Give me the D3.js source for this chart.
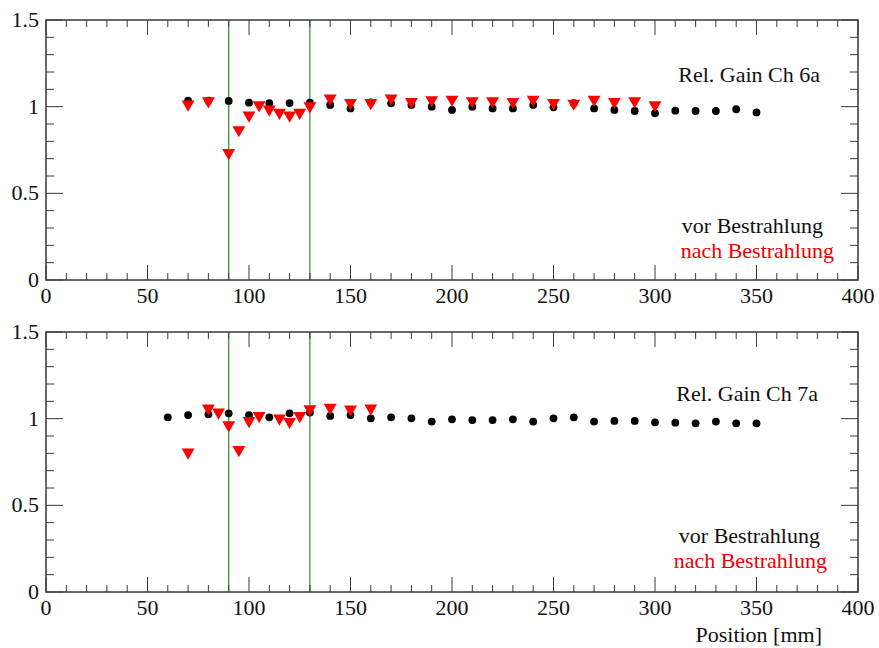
<!DOCTYPE html>
<html><head><meta charset="utf-8">
<script src="https://cdn.jsdelivr.net/npm/d3@7"></script>
<style>body{margin:0;background:#fff}svg{display:block}text{font-family:"Liberation Serif","DejaVu Serif","Times New Roman",serif}</style>
</head><body>
<script>
// ---- data ----
const xTicks = [0, 50, 100, 150, 200, 250, 300, 350, 400];
const yTicks = [0, 0.5, 1, 1.5];
const yTickLabels = ["0", "0.5", "1", "1.5"];
const markerLines = [90, 130];

const top_vor_x = [70,80,90,100,110,120,130,140,150,160,170,180,190,200,210,220,230,240,250,260,270,280,290,300,310,320,330,340,350];
const top_vor_y = [1.035,1.035,1.033,1.023,1.02,1.021,1.023,1.01,0.99,1.025,1.019,1.01,1.0,0.981,1.0,0.99,0.99,1.01,0.996,1.02,0.99,0.981,0.975,0.962,0.977,0.975,0.975,0.985,0.967];
const top_nach_x = [70,80,90,95,100,105,110,115,120,125,130,140,150,160,170,180,190,200,210,220,230,240,250,260,270,280,290,300];
const top_nach_y = [1.014,1.033,0.734,0.866,0.95,1.01,0.985,0.966,0.95,0.966,1.004,1.048,1.023,1.023,1.048,1.029,1.039,1.042,1.033,1.033,1.029,1.042,1.023,1.019,1.042,1.029,1.033,1.01];

const bot_vor_x = [60,70,80,90,100,110,120,130,140,150,160,170,180,190,200,210,220,230,240,250,260,270,280,290,300,310,320,330,340,350];
const bot_vor_y = [1.008,1.021,1.025,1.031,1.021,1.008,1.031,1.035,1.016,1.021,1.002,1.008,1.002,0.983,0.996,0.992,0.992,0.996,0.983,1.002,1.008,0.983,0.987,0.987,0.979,0.977,0.973,0.983,0.973,0.973];
const bot_nach_x = [70,80,85,90,95,100,105,115,120,125,130,140,150,160];
const bot_nach_y = [0.806,1.06,1.037,0.963,0.821,0.988,1.017,1.002,0.983,1.017,1.056,1.064,1.054,1.06];

const panels = [
  {title: "Rel. Gain Ch 6a", vx: top_vor_x, vy: top_vor_y, nx: top_nach_x, ny: top_nach_y, top: 20},
  {title: "Rel. Gain Ch 7a", vx: bot_vor_x, vy: bot_vor_y, nx: bot_nach_x, ny: bot_nach_y, top: 332}
];

// ---- drawing ----
const W = 879, H = 648;
const svg = d3.select("body").append("svg").attr("width", W).attr("height", H);
const L = 46, R = 858, PH = 260;
const x = d3.scaleLinear().domain([0, 400]).range([L, R]);
const frameCol = "#3a3a3a";
const FS = 22;

panels.forEach((p, i) => {
  const y = d3.scaleLinear().domain([0, 1.5]).range([p.top + PH, p.top]);
  const g = svg.append("g");
  const B = p.top + PH;

  markerLines.forEach(v => {
    g.append("line").attr("x1", x(v)).attr("x2", x(v)).attr("y1", p.top).attr("y2", B)
      .attr("stroke", "#2e8b2e").attr("stroke-width", 1.2);
  });

  const xMinor = d3.range(0, 401, 10);
  xMinor.forEach(v => {
    const major = v % 50 === 0;
    const len = major ? 15 : 7;
    g.append("line").attr("x1", x(v)).attr("x2", x(v)).attr("y1", B).attr("y2", B - len)
      .attr("stroke", frameCol).attr("stroke-width", 1);
    g.append("line").attr("x1", x(v)).attr("x2", x(v)).attr("y1", p.top).attr("y2", p.top + len)
      .attr("stroke", frameCol).attr("stroke-width", 1);
  });
  const yMinor = d3.range(0, 16).map(k => k / 10);
  yMinor.forEach((v, k) => {
    const major = k % 5 === 0;
    const len = major ? 17 : 8;
    g.append("line").attr("x1", L).attr("x2", L + len).attr("y1", y(v)).attr("y2", y(v))
      .attr("stroke", frameCol).attr("stroke-width", 1);
    g.append("line").attr("x1", R).attr("x2", R - len).attr("y1", y(v)).attr("y2", y(v))
      .attr("stroke", frameCol).attr("stroke-width", 1);
  });

  g.append("rect").attr("x", L).attr("y", p.top).attr("width", R - L).attr("height", PH)
    .attr("fill", "none").attr("stroke", frameCol).attr("stroke-width", 1.5);

  xTicks.forEach(v => {
    g.append("text").attr("x", x(v)).attr("y", B + 23).attr("text-anchor", "middle")
      .attr("font-size", FS).attr("fill", "#111").text(String(v));
  });
  yTicks.forEach((v, k) => {
    g.append("text").attr("x", 39).attr("y", y(v) + 7).attr("text-anchor", "end")
      .attr("font-size", FS).attr("fill", "#111").text(yTickLabels[k]);
  });

  g.selectAll("circle.vor").data(p.vx.map((d, j) => [d, p.vy[j]])).join("circle")
    .attr("cx", d => x(d[0])).attr("cy", d => y(d[1])).attr("r", 3.9).attr("fill", "#000");
  const tri = d3.symbol().type(d3.symbolTriangle).size(72);
  g.selectAll("path.nach").data(p.nx.map((d, j) => [d, p.ny[j]])).join("path")
    .attr("d", tri).attr("fill", "#ff0000")
    .attr("transform", d => `translate(${x(d[0])},${y(d[1])}) rotate(180)`);

  g.append("text").attr("x", 820 - i * 2).attr("y", p.top + 62 + i * 7).attr("text-anchor", "end")
    .attr("font-size", FS).attr("fill", "#111").text(p.title);
  g.append("text").attr("x", 823 - i * 3).attr("y", p.top + 213 - i * 2).attr("text-anchor", "end")
    .attr("font-size", FS).attr("fill", "#111").text("vor Bestrahlung");
  g.append("text").attr("x", 834 - i * 7).attr("y", p.top + 238 - i * 2).attr("text-anchor", "end")
    .attr("font-size", FS).attr("fill", "#ee0000").text("nach Bestrahlung");
});

svg.append("text").attr("x", 822).attr("y", 642).attr("text-anchor", "end")
  .attr("font-size", FS).attr("fill", "#111").text("Position [mm]");
</script>
</body></html>
